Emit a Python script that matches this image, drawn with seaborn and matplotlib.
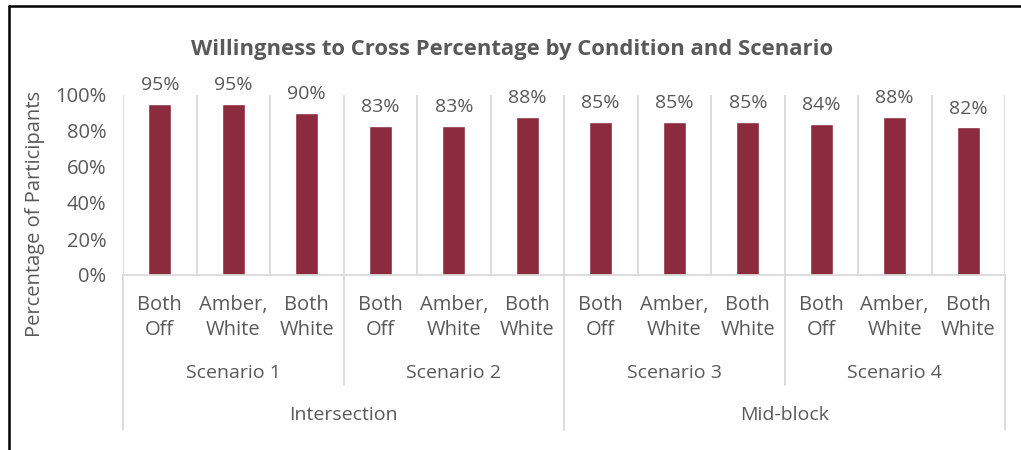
import matplotlib
matplotlib.use('Agg')
import matplotlib.pyplot as plt
from matplotlib.lines import Line2D
import pandas as pd
import seaborn as sns

# 数据
conditions = ['Both\nOff', 'Amber,\nWhite', 'Both\nWhite'] * 4
scenarios = ['Scenario 1', 'Scenario 2', 'Scenario 3', 'Scenario 4']
locations = ['Intersection', 'Mid-block']
willing = [95, 95, 90, 83, 83, 88, 85, 85, 85, 84, 88, 82]
yticks = [0, 20, 40, 60, 80, 100]

bar_color = '#8C2B3D'
text_color = '#595959'
line_color = '#D9D9D9'

sns.set_style('white')
plt.rcParams['font.family'] = ['Open Sans', 'DejaVu Sans']

df = pd.DataFrame({'slot': [str(i) for i in range(len(willing))], 'pct': willing})

W, H = 1021, 450
fig = plt.figure(figsize=(W / 100, H / 100), dpi=100)
ax = fig.add_axes([123 / W, 1 - 275 / H, (1005 - 123) / W, 180 / H])

sns.barplot(data=df, x='slot', y='pct', color=bar_color, saturation=1, width=0.31, ax=ax)
ax.set_xlim(-0.5, len(willing) - 0.5)
ax.set_ylim(0, 100)
ax.set_yticks(yticks)
ax.set_yticklabels(['{}%'.format(t) for t in yticks], fontsize=14.5, color=text_color)
ax.tick_params(axis='y', length=0, pad=12)
ax.set_xticks([])
ax.set_xlabel('')
ax.set_ylabel('')
for s in ax.spines.values():
    s.set_visible(False)

# 数据标签
ax.bar_label(ax.containers[0], labels=['{}%'.format(v) for v in willing],
             padding=7, fontsize=14, color=text_color)

tr = ax.get_xaxis_transform()
# 类别分隔线 (绘图区内)
for i in range(len(willing) + 1):
    ax.plot([i - 0.5, i - 0.5], [0, 1], transform=tr, color=line_color, lw=1.3, zorder=0)
# 底部轴线
ax.plot([-0.5, len(willing) - 0.5], [0, 0], transform=tr, color=line_color, lw=1.3, clip_on=False)

# 多级类别标签
for i, c in enumerate(conditions):
    ax.text(i, -0.235, c, transform=tr, ha='center', va='center', fontsize=14.5,
            color=text_color, linespacing=1.3)
for j, s in enumerate(scenarios):
    ax.text(3 * j + 1, -0.544, s, transform=tr, ha='center', va='center', fontsize=14, color=text_color)
for k, loc in enumerate(locations):
    ax.text(6 * k + 2.5, -0.78, loc, transform=tr, ha='center', va='center', fontsize=14, color=text_color)

# 轴下方分隔线
for x in [2.5, 8.5]:
    ax.plot([x, x], [0, -0.611], transform=tr, color=line_color, lw=1.3, clip_on=False)
for x in [-0.5, 5.5, 11.5]:
    ax.plot([x, x], [0, -0.861], transform=tr, color=line_color, lw=1.3, clip_on=False)

fig.text(35 / W, 1 - 214 / H, 'Percentage of Participants', rotation=90, ha='center', va='center',
         fontsize=14.5, color=text_color)
fig.text(512 / W, 1 - 50 / H, 'Willingness to Cross Percentage by Condition and Scenario',
         ha='center', va='center', fontsize=15.8, fontweight='bold', color=text_color)

# 外框
fig.add_artist(Line2D([9 / W, 9 / W], [0, 1 - 6 / H], color='black', lw=1.8))
fig.add_artist(Line2D([9 / W, 1], [1 - 6 / H, 1 - 6 / H], color='black', lw=1.8))

fig.savefig('out.png', dpi=100)
